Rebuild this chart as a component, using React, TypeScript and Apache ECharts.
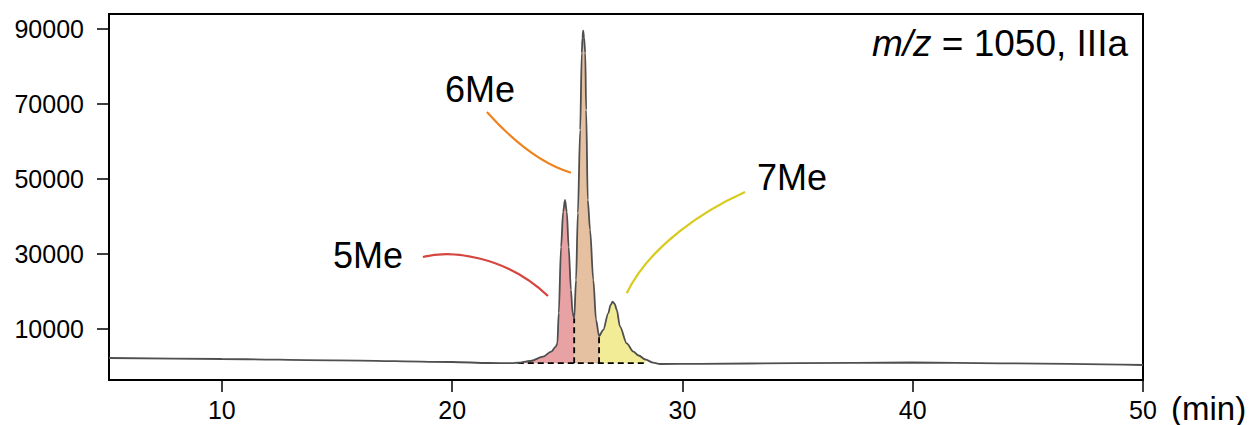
import React, { useEffect, useRef } from "react";
import * as echarts from "echarts";

// retention time (min) and intensity
const times = [
  5.1, 10.0, 15.0, 20.0, 21.6, 22.6, 22.85, 23.4, 23.95, 24.3, 24.5, 24.57, 24.63,
  24.73, 24.82, 24.9, 24.98, 25.06, 25.16, 25.23, 25.3, 25.38, 25.46, 25.56, 25.63,
  25.66, 25.69, 25.73, 25.78, 25.82, 25.89, 25.99, 26.13, 26.25, 26.38, 26.56, 26.78,
  26.88, 26.97, 27.06, 27.15, 27.29, 27.58, 27.87, 28.1, 28.39, 28.73, 29.03, 30.76,
  35.0, 39.97, 43.8, 50.0,
];
const intensities = [
  2270, 2000, 1650, 1200, 930, 880, 1000, 1470, 2610, 3950, 5280, 6190, 14270,
  31870, 41200, 44400, 41200, 31870, 20400, 14270, 12850, 23070, 40930, 63070, 83600,
  87600, 89550, 87600, 83600, 68400, 44400, 36400, 23070, 12400, 8130, 9730, 14190,
  16400, 17280, 16670, 15070, 10610, 6190, 3950, 2930, 1870, 1010, 670, 720,
  880, 1070, 850, 400,
];

// integration boundaries (min) and baseline level
const peakBounds = [22.85, 25.3, 26.38, 28.39];
const baselineLevel = 900;
const peakNames = ["5Me", "6Me", "7Me"];
const peakFills = ["#e8a2a3", "#e5c1a1", "#f3ec97"];
const leaderColors = ["#d6453f", "#f0821e", "#d9cb1d"];

// label anchor [time, intensity]
const labelPos = [
  [16.35, 29730],
  [21.21, 74000],
  [34.76, 50270],
];
// leader curves: start, control1, control2, end  ([time, intensity])
const leaders = [
  [[18.73, 29200], [19.91, 31070], [22.29, 29730], [24.16, 18800]],
  [[21.51, 67870], [22.29, 62530], [23.6, 54530], [25.16, 51680]],
  [[32.72, 46530], [30.98, 41730], [28.59, 32400], [27.58, 19520]],
];

const xTicks = [10, 20, 30, 40, 50];
const yTicks = [10000, 30000, 50000, 70000, 90000];

const FONT = "'Liberation Sans', Arial, Helvetica, sans-serif";

export default function App() {
  const ref = useRef<HTMLDivElement>(null);
  useEffect(() => {
    if (!ref.current) return;
    const chart = echarts.init(ref.current, null, { renderer: "svg" });
    const trace = times.map((t, i) => [t, intensities[i]]);
    const idx = (t: number) => times.indexOf(t);

    const smooth = 0.3;
    const fillSeries = peakNames.map((n, k) => ({
      type: "line",
      name: n + " area",
      data: trace.slice(idx(peakBounds[k]), idx(peakBounds[k + 1]) + 1),
      smooth,
      smoothMonotone: "x",
      symbol: "none",
      lineStyle: { width: 0 },
      areaStyle: { color: peakFills[k], opacity: 1, origin: baselineLevel },
      z: 1,
      silent: true,
    }));

    const dashStyle = { color: "#000", width: 1.8, type: [6, 4] };
    const dashSeries = [
      [[peakBounds[0], baselineLevel], [peakBounds[3], baselineLevel]],
      [[peakBounds[1], baselineLevel], [peakBounds[1], intensities[idx(peakBounds[1])]]],
      [[peakBounds[2], baselineLevel], [peakBounds[2], intensities[idx(peakBounds[2])]]],
    ].map((d) => ({
      type: "line",
      data: d,
      symbol: "none",
      lineStyle: dashStyle,
      z: 2,
      silent: true,
    }));

    chart.setOption({
      animation: false,
      grid: {
        left: 109,
        right: 109,
        top: 14,
        bottom: 45,
        show: true,
        borderColor: "#000",
        borderWidth: 2,
        backgroundColor: "transparent",
      },
      xAxis: {
        type: "value",
        min: 5.1,
        max: 50,
        splitLine: { show: false },
        axisLine: { onZero: false, lineStyle: { color: "#000", width: 2 } },
        axisTick: { length: 12, lineStyle: { color: "#000", width: 1.5 }, customValues: xTicks },
        axisLabel: {
          customValues: xTicks,
          color: "#000",
          fontSize: 25,
          fontFamily: FONT,
          margin: 17,
          formatter: (v: number) => String(v),
        },
      },
      yAxis: {
        type: "value",
        min: -3600,
        max: 94000,
        splitLine: { show: false },
        axisLine: { onZero: false, lineStyle: { color: "#000", width: 2 } },
        axisTick: { length: 12, lineStyle: { color: "#000", width: 1.5 }, customValues: yTicks },
        axisLabel: {
          customValues: yTicks,
          color: "#000",
          fontSize: 25,
          fontFamily: FONT,
          margin: 25,
          formatter: (v: number) => String(v),
        },
      },
      series: [
        ...fillSeries,
        ...dashSeries,
        {
          type: "line",
          name: "m/z 1050",
          data: trace,
          smooth,
          smoothMonotone: "x",
          symbol: "none",
          lineStyle: { color: "#4f4f4f", width: 1.8 },
          z: 3,
        },
      ],
    });

    const px = (p: number[]) => chart.convertToPixel({ gridIndex: 0 }, p) as number[];
    const graphics: any[] = [];
    leaders.forEach((c, k) => {
      const [a, b, cc, d] = c.map(px);
      graphics.push({
        type: "bezierCurve",
        shape: { x1: a[0], y1: a[1], cpx1: b[0], cpy1: b[1], cpx2: cc[0], cpy2: cc[1], x2: d[0], y2: d[1] },
        style: { stroke: leaderColors[k], lineWidth: 2.2, fill: "none" },
        silent: true,
      });
      const lp = px(labelPos[k]);
      graphics.push({
        type: "text",
        x: lp[0],
        y: lp[1],
        style: {
          text: peakNames[k],
          fontSize: 36,
          fontFamily: FONT,
          fill: "#000",
          align: "center",
          verticalAlign: "middle",
        },
        silent: true,
      });
    });
    graphics.push({
      type: "text",
      x: 1128,
      y: 43,
      style: {
        text: "{i|m/z} = 1050, IIIa",
        fontSize: 37,
        fontFamily: FONT,
        fill: "#000",
        align: "right",
        verticalAlign: "middle",
        rich: { i: { fontStyle: "italic", fontSize: 37, fontFamily: FONT, fill: "#000" } },
      },
      silent: true,
    });
    graphics.push({
      type: "text",
      x: 1171,
      y: 408,
      style: {
        text: "(min)",
        fontSize: 33,
        fontFamily: FONT,
        fill: "#000",
        align: "left",
        verticalAlign: "middle",
      },
      silent: true,
    });
    chart.setOption({ graphic: graphics });

    return () => chart.dispose();
  }, []);
  return (
    <div
      ref={ref}
      style={{ position: "absolute", left: 0, top: 0, width: 1252, height: 425 }}
    />
  );
}
